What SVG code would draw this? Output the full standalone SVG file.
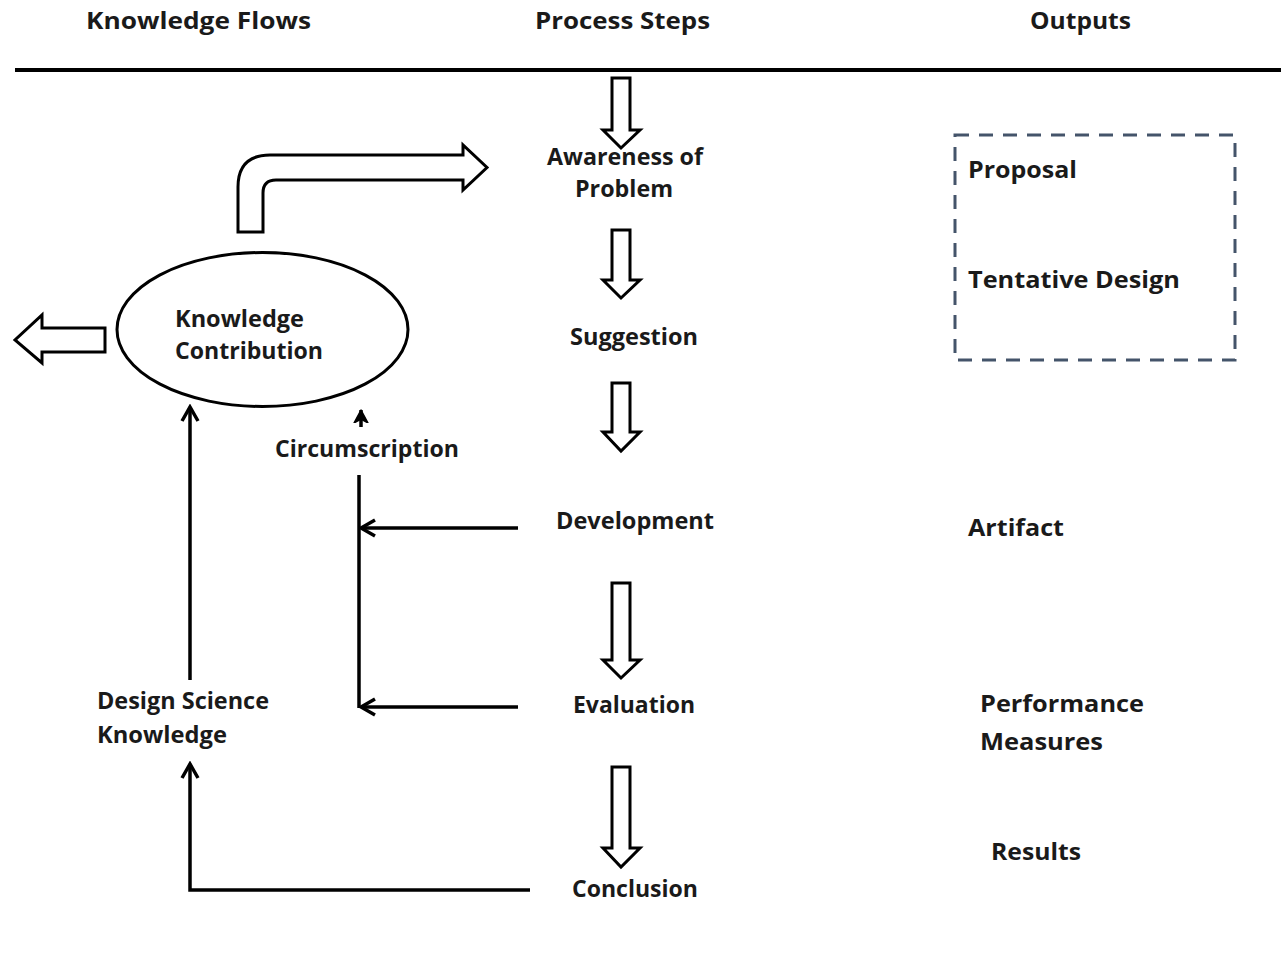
<svg xmlns="http://www.w3.org/2000/svg" width="1281" height="965" viewBox="0 0 1281 965">
<style>
text{font-family:"Open Sans","Liberation Sans",sans-serif;font-weight:bold;fill:#1a1a1a;font-size:24px}
.hdr{font-size:23px}
.hollow{fill:#fff;stroke:#000;stroke-width:3;stroke-linejoin:miter}
.ln{fill:none;stroke:#000;stroke-width:3.5}
</style>
<defs>
<marker id="chev" viewBox="0 0 20 20" refX="17" refY="10" markerWidth="20" markerHeight="20" markerUnits="userSpaceOnUse" orient="auto">
<path d="M3,2 L17,10 L3,18" fill="none" stroke="#000" stroke-width="3.5"/>
</marker>
<marker id="small" viewBox="0 0 14 16" refX="13" refY="8" markerWidth="14" markerHeight="16" markerUnits="userSpaceOnUse" orient="auto">
<path d="M0,1 L13,8 L0,15 L4,8 Z" fill="#000" stroke="#000" stroke-width="1.5" stroke-linejoin="round"/>
</marker>
</defs>
<rect width="1281" height="965" fill="#fff"/>
<g id="headers">
<text class="hdr" x="86" y="29" textLength="225" lengthAdjust="spacingAndGlyphs">Knowledge Flows</text>
<text class="hdr" x="535" y="29" textLength="175" lengthAdjust="spacingAndGlyphs">Process Steps</text>
<text class="hdr" x="1030" y="29" textLength="101" lengthAdjust="spacingAndGlyphs">Outputs</text>
<line x1="15" y1="70" x2="1281" y2="70" stroke="#000" stroke-width="4"/>
</g>
<g id="connectors">
<polygon class="hollow" points="612,78 630,78 630,130 640,130 621,148 603,130 612,130"/>
<polygon class="hollow" points="612,230 630,230 630,280 640,280 621,298 603,280 612,280"/>
<polygon class="hollow" points="612,383 630,383 630,432 640,432 621,451 603,432 612,432"/>
<polygon class="hollow" points="612,583 630,583 630,660 640,660 621,678 603,660 612,660"/>
<polygon class="hollow" points="612,767 630,767 630,848 640,848 621,867 603,848 612,848"/>
<path class="hollow" d="M238,232 L238,187 Q238,155 270,155 L463,155 L463,145 L487,167.5 L463,190 L463,180 L276,180 Q263,180 263,193 L263,232 Z"/>
<polygon class="hollow" points="105,328 105,352 42,352 42,363 15,340 42,315 42,328"/>
<path class="ln" d="M530,890 L190,890 L190,764" marker-end="url(#chev)"/>
<path class="ln" d="M190,680 L190,407" marker-end="url(#chev)"/>
<path class="ln" d="M359,475 L359,708"/>
<path class="ln" d="M518,528 L361,528" marker-end="url(#chev)"/>
<path class="ln" d="M518,707 L361,707" marker-end="url(#chev)"/>
<path class="ln" d="M361,427 L361,410" marker-end="url(#small)"/>
</g>
<g id="knowledge-contribution">
<ellipse cx="262.5" cy="329.5" rx="145.5" ry="77" fill="#fff" stroke="#000" stroke-width="3"/>
<text x="175" y="327" textLength="129" lengthAdjust="spacingAndGlyphs">Knowledge</text>
<text x="175" y="359" textLength="148" lengthAdjust="spacingAndGlyphs">Contribution</text>
</g>
<g id="awareness"><text x="547" y="165" textLength="156" lengthAdjust="spacingAndGlyphs">Awareness of</text><text x="575" y="197" textLength="98" lengthAdjust="spacingAndGlyphs">Problem</text></g>
<g id="suggestion"><text x="570" y="345" textLength="128" lengthAdjust="spacingAndGlyphs">Suggestion</text></g>
<g id="development"><text x="556" y="529" textLength="158" lengthAdjust="spacingAndGlyphs">Development</text></g>
<g id="evaluation"><text x="573" y="713" textLength="122" lengthAdjust="spacingAndGlyphs">Evaluation</text></g>
<g id="conclusion"><text x="572" y="897" textLength="126" lengthAdjust="spacingAndGlyphs">Conclusion</text></g>
<g id="circumscription"><text x="275" y="457" textLength="184" lengthAdjust="spacingAndGlyphs">Circumscription</text></g>
<g id="design-science-knowledge"><text x="97" y="709" textLength="172" lengthAdjust="spacingAndGlyphs">Design Science</text><text x="97" y="743" textLength="130" lengthAdjust="spacingAndGlyphs">Knowledge</text></g>
<g id="outputs-box">
<rect x="955" y="135" width="280" height="225" fill="none" stroke="#44546A" stroke-width="3" stroke-dasharray="14,10"/>
<text x="968" y="178" textLength="109" lengthAdjust="spacingAndGlyphs">Proposal</text>
<text x="968" y="288" textLength="212" lengthAdjust="spacingAndGlyphs">Tentative Design</text>
</g>
<g id="artifact"><text x="968" y="536" textLength="96" lengthAdjust="spacingAndGlyphs">Artifact</text></g>
<g id="performance"><text x="980" y="712" textLength="164" lengthAdjust="spacingAndGlyphs">Performance</text><text x="980" y="750" textLength="123" lengthAdjust="spacingAndGlyphs">Measures</text></g>
<g id="results"><text x="991" y="860" textLength="90" lengthAdjust="spacingAndGlyphs">Results</text></g>
</svg>
